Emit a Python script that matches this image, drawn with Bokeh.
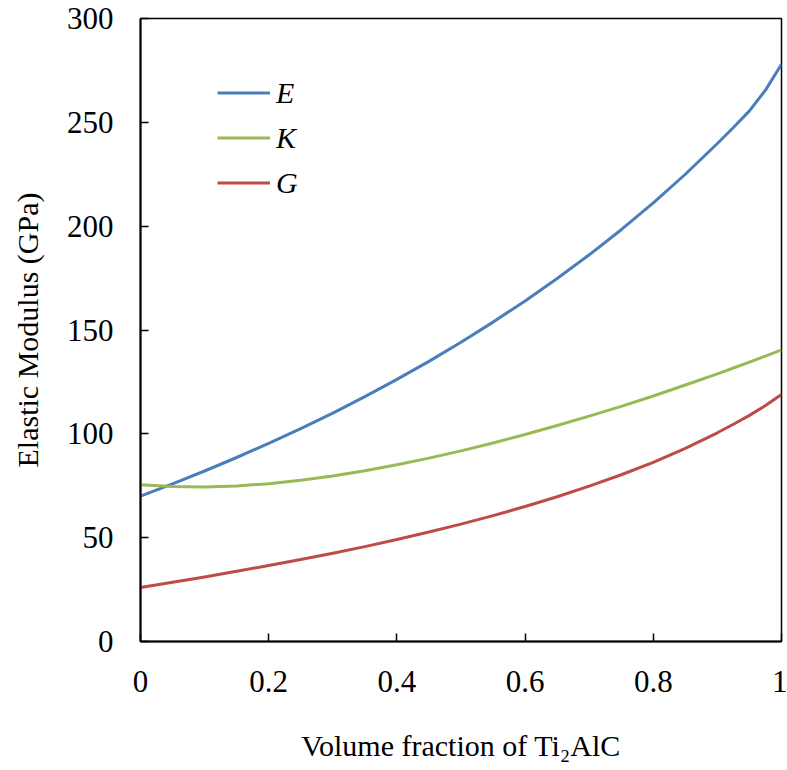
from bokeh.plotting import figure
from bokeh.models import Legend, LegendItem, Range1d, FixedTicker
from bokeh.embed import file_html
from bokeh.resources import INLINE

x_frac = [0.0, 0.05, 0.1, 0.15, 0.2, 0.25, 0.3, 0.35, 0.4, 0.45, 0.5,
          0.55, 0.6, 0.65, 0.7, 0.75, 0.8, 0.85, 0.9, 0.925, 0.95, 0.975, 1.0]
E_vals = [70, 75.9, 82.1, 88.6, 95.4, 102.5, 110, 117.9, 126.2, 134.9, 144.1,
          153.8, 164, 174.8, 186.2, 198.3, 211.2, 225, 239.8, 247.5, 255.5, 265.5, 278]
K_vals = [75.5, 74.6, 74.4, 74.9, 76.0, 77.6, 79.7, 82.2, 85.1, 88.3, 91.8,
          95.6, 99.7, 104.0, 108.5, 113.2, 118.2, 123.5, 128.9, 131.7, 134.5, 137.4, 140.4]
G_vals = [26, 28.5, 31.1, 33.8, 36.6, 39.5, 42.5, 45.7, 49.1, 52.7, 56.5,
          60.6, 65.0, 69.7, 74.8, 80.3, 86.3, 93.0, 100.5, 104.6, 108.9, 113.6, 118.9]

x_ticks = [0, 0.2, 0.4, 0.6, 0.8, 1.0]
x_tick_labels = {0: "0", 0.2: "0.2", 0.4: "0.4", 0.6: "0.6", 0.8: "0.8", 1.0: "1"}
y_ticks = [0, 50, 100, 150, 200, 250, 300]

series_names = ["E", "K", "G"]
colors = ["#4a7ebb", "#98b954", "#be4b48"]

FONT = "Liberation Serif"

p = figure(width=787, height=770, output_backend="svg", toolbar_location=None,
           x_range=Range1d(0, 1), y_range=Range1d(0, 300),
           min_border_left=140, min_border_right=6, min_border_top=18,
           min_border_bottom=129)
p.background_fill_color = "white"
p.border_fill_color = "white"
p.grid.visible = False
p.outline_line_color = "black"
p.outline_line_width = 1.5

renderers = []
for ys, c in zip([E_vals, K_vals, G_vals], colors):
    r = p.line(x_frac, ys, line_color=c, line_width=3, line_join="round")
    renderers.append(r)

legend = Legend(items=[LegendItem(label=n, renderers=[r]) for n, r in zip(series_names, renderers)],
                location=(77, 436), margin=0, padding=0, spacing=0,
                glyph_width=53, glyph_height=45, label_height=45,
                label_standoff=6, border_line_color=None, background_fill_alpha=0,
                label_text_font=FONT, label_text_font_style="italic",
                label_text_font_size="30px", label_text_color="black")
p.add_layout(legend, "center")

for ax in [p.xaxis[0], p.yaxis[0]]:
    ax.axis_line_color = "black"
    ax.axis_line_width = 2
    ax.major_tick_in = 8
    ax.major_tick_out = 0
    ax.major_tick_line_color = "black"
    ax.major_tick_line_width = 1.5
    ax.minor_tick_line_color = None
    ax.major_label_text_font = FONT
    ax.major_label_text_font_size = "31px"
    ax.major_label_text_color = "black"
    ax.axis_label_text_font = FONT
    ax.axis_label_text_font_size = "30px"
    ax.axis_label_text_font_style = "normal"
    ax.axis_label_text_color = "black"

p.xaxis.ticker = FixedTicker(ticks=x_ticks)
p.xaxis.major_label_overrides = x_tick_labels
p.xaxis.major_label_standoff = 29
p.xaxis.axis_label = "Volume fraction of Ti\u2082AlC"
p.xaxis.axis_label_standoff = 34

p.yaxis.ticker = FixedTicker(ticks=y_ticks)
p.yaxis.major_label_standoff = 27
p.yaxis.axis_label = "Elastic Modulus (GPa)"
p.yaxis.axis_label_standoff = 20

open("out.html", "w").write(file_html(p, INLINE))
